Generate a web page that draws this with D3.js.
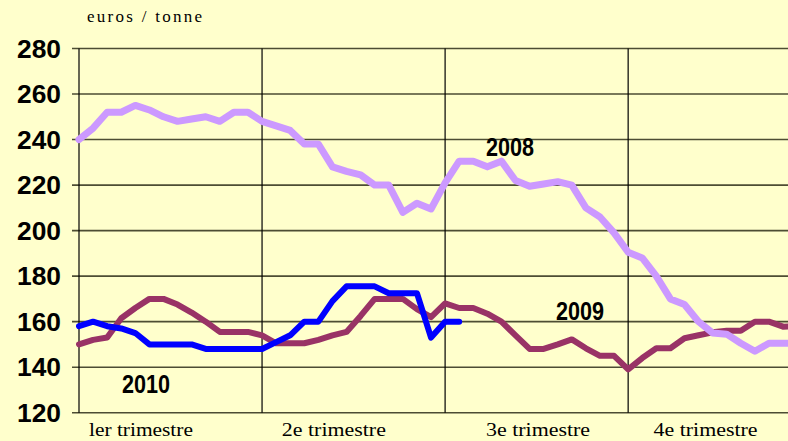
<!DOCTYPE html>
<html>
<head>
<meta charset="utf-8">
<script src="https://cdn.jsdelivr.net/npm/d3@7/dist/d3.min.js"></script>
<style>
  html, body { margin: 0; padding: 0; background: #FFFFCC; }
  svg { display: block; }
</style>
</head>
<body>
<div id="chart"></div>
<script>
// weekly prices, euros / tonne (week 0 = first week of january)
var prices2008 = [240, 245, 252, 252, 255, 253, 250, 248, 249, 250, 248, 252, 252,
                  248, 246, 244, 238, 238, 228, 226, 224.5, 220, 220, 208, 212, 209.5,
                  221, 230.5, 230.5, 228, 230.5, 222, 219.5, 220.5, 221.5, 220,
                  210, 206, 199, 190.5, 188, 180, 170, 167.5, 160, 155, 154.5, 150.5,
                  147, 150.5, 150.5, 150.5];
var prices2009 = [150, 152, 153, 161.5, 166, 170, 170, 167.5, 164, 160, 155.5, 155.5, 155.5,
                  154, 150.5, 150.5, 150.5, 152, 154, 155.5, 162.5, 170, 170, 170, 165.5,
                  162, 168, 166, 166, 163.5, 160, 154, 148, 148, 150, 152.2,
                  148.3, 145, 145, 139, 144, 148.3, 148.3, 152.7, 154, 155.3, 156, 156,
                  160, 160, 157.8, 158];
var prices2010 = [158, 160, 158, 157, 155, 150, 150, 150, 150, 148, 148, 148, 148,
                  148, 151, 154, 160, 160, 169, 175.5, 175.5, 175.5, 172.5, 172.5, 172.5,
                  153, 160, 160];

var yTicks = [120, 140, 160, 180, 200, 220, 240, 260, 280];
var quarterStarts = [0, 13, 26, 39];
var quarterLabels = ['ler trimestre', '2e trimestre', '3e trimestre', '4e trimestre'];
var quarterLabelWeeks = [4.4, 18.1, 32.6, 44.5];

var seriesNames = ['2009', '2010', '2008'];
var seriesValues = [prices2009, prices2010, prices2008];
var seriesColors = ['#993366', '#0000FF', '#CC99FF'];
var seriesWidths = [6, 6, 7];
var yearLabelPos = [[556, 320], [122, 393], [486, 156]]; // pixel anchors of the year captions

var serifFont = '"Liberation Serif", "Times New Roman", Times, "DejaVu Serif", serif';

var width = 788, height = 441;

var svg = d3.select('#chart').append('svg')
    .attr('width', width)
    .attr('height', height);

svg.append('rect')
    .attr('width', width)
    .attr('height', height)
    .attr('fill', '#FFFFCC');

var x = d3.scaleLinear().domain([0, 52]).range([79, 811.2]);
var y = d3.scaleLinear().domain([120, 280]).range([412.7, 48.5]);

var plot = svg.append('g');

// horizontal grid lines, they also make the little ticks left of the axis
plot.selectAll('line.hgrid')
    .data(yTicks)
    .enter()
      .append('line')
      .attr('class', 'hgrid')
      .attr('x1', 72)
      .attr('x2', width)
      .attr('y1', function(d) { return y(d); })
      .attr('y2', function(d) { return y(d); })
      .style('stroke', '#4d4d33')
      .style('stroke-width', 1.6);

// quarter separators
plot.selectAll('line.vgrid')
    .data(quarterStarts)
    .enter()
      .append('line')
      .attr('class', 'vgrid')
      .attr('x1', function(d) { return x(d); })
      .attr('x2', function(d) { return x(d); })
      .attr('y1', y(280))
      .attr('y2', y(120))
      .style('stroke', '#000')
      .style('stroke-width', 1.2);

// y labels
svg.selectAll('text.ylab')
    .data(yTicks)
    .enter()
      .append('text')
      .attr('class', 'ylab')
      .attr('x', 61)
      .attr('y', function(d) { return y(d) + 9; })
      .attr('text-anchor', 'end')
      .attr('textLength', 44)
      .attr('lengthAdjust', 'spacingAndGlyphs')
      .style('font-family', '"Liberation Sans", Arial, sans-serif')
      .style('font-weight', 'bold')
      .style('font-size', '25px')
      .style('fill', '#000')
      .text(function(d) { return d; });

// quarter labels
svg.selectAll('text.qlab')
    .data(quarterLabels)
    .enter()
      .append('text')
      .attr('class', 'qlab')
      .attr('x', function(d, i) { return x(quarterLabelWeeks[i]); })
      .attr('y', 436)
      .attr('text-anchor', 'middle')
      .attr('textLength', 104)
      .attr('lengthAdjust', 'spacingAndGlyphs')
      .style('font-family', serifFont)
      .style('font-size', '18px')
      .style('fill', '#000')
      .text(function(d) { return d; });

svg.append('text')
    .attr('x', 87)
    .attr('y', 22)
    .attr('textLength', 115)
    .attr('lengthAdjust', 'spacing')
    .style('font-family', serifFont)
    .style('font-size', '17px')
    .style('fill', '#000')
    .text('euros / tonne');

// price lines
var line = d3.line()
    .x(function(d, i) { return x(i); })
    .y(function(d) { return y(d); });

svg.append('clipPath')
    .attr('id', 'plotclip')
  .append('rect')
    .attr('x', 70)
    .attr('y', 30)
    .attr('width', width - 70)
    .attr('height', 400);

var lines = svg.append('g').attr('clip-path', 'url(#plotclip)');

seriesValues.forEach(function(vals, k) {
  lines.append('path')
      .datum(vals)
      .attr('d', line)
      .style('fill', 'none')
      .style('stroke', seriesColors[k])
      .style('stroke-width', seriesWidths[k])
      .style('stroke-linejoin', 'round')
      .style('stroke-linecap', 'round');
});

// year captions
svg.selectAll('text.year')
    .data(seriesNames)
    .enter()
      .append('text')
      .attr('class', 'year')
      .attr('x', function(d, i) { return yearLabelPos[i][0]; })
      .attr('y', function(d, i) { return yearLabelPos[i][1]; })
      .attr('textLength', 48)
      .attr('lengthAdjust', 'spacingAndGlyphs')
      .style('font-family', '"Liberation Sans Narrow", "Liberation Sans", Arial, sans-serif')
      .style('font-weight', 'bold')
      .style('font-size', '26px')
      .style('fill', '#000')
      .text(function(d) { return d; });
</script>
</body>
</html>
